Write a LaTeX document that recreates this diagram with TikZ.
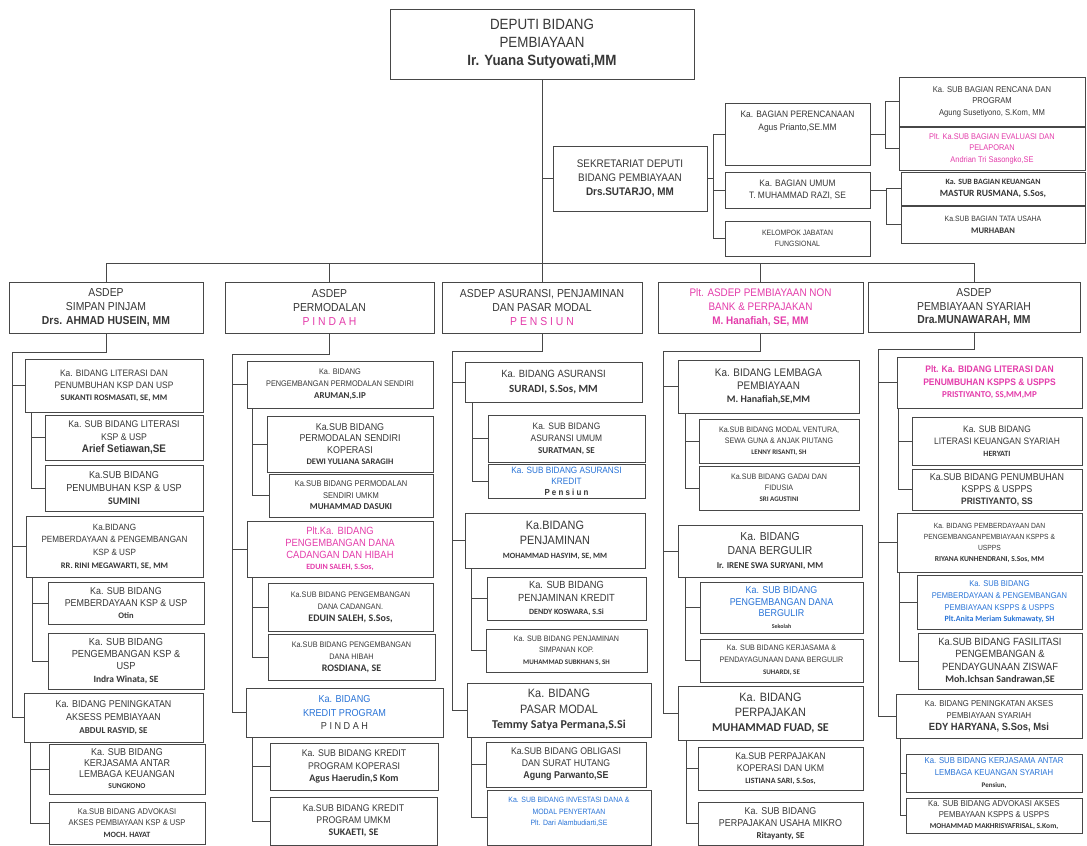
\documentclass[tikz,border=0pt]{standalone}
\usepackage{fontspec}
\setmainfont{Liberation Sans}[FakeStretch=0.9]
\newfontfamily\calib{Carlito}
\usetikzlibrary{calc}
\definecolor{pk}{RGB}{228,60,170}
\definecolor{bl}{RGB}{40,115,215}
\definecolor{tx}{RGB}{55,55,55}
\newcommand\fz[2]{\fontsize{\dimexpr #1pt*11/10\relax}{\dimexpr #2pt*11/10\relax}\selectfont}
\newcommand\nm[2]{{\calib\bfseries\fontsize{#1}{#1}\selectfont #2}}
\newcommand\ab[2]{{\bfseries\fontsize{\dimexpr #1pt*11/10\relax}{#1}\selectfont #2}}
\newcommand\bx[7][]{\node[box,#1,minimum width={(#5-#3)*1pt},minimum height={(#6-#4)*1pt}] (#2) at ({(#3+#5)/2},{(#4+#6)/2}) {#7};}
\begin{document}
\begin{tikzpicture}[x=1pt,y=-1pt,
  box/.style={draw=black!72,line width=1pt,fill=white,align=center,inner sep=1pt,text=tx},
  ln/.style={draw=black!72,line width=1pt}]
\fill[white] (0,0) rectangle (1087,846);
\useasboundingbox (0,0) rectangle (1087,846);
% top
\bx[font=\fz{13.5}{16.5}]{D}{390}{9}{694}{79}{DEPUTI BIDANG\\PEMBIAYAAN\\\ab{13.5}{Ir. Yuana Sutyowati,MM}}
\bx[font=\fz{10}{12.5}]{S}{553}{146}{707}{211}{SEKRETARIAT DEPUTI\\BIDANG PEMBIAYAAN\\\ab{10}{Drs.SUTARJO, MM}}
\bx[font=\fz{8.5}{12}]{P1}{725}{103}{870}{165}{Ka. BAGIAN PERENCANAAN\\Agus Prianto,SE.MM\\~\\~}
\bx[font=\fz{8.5}{11.5}]{P2}{725}{172}{870}{208}{Ka. BAGIAN UMUM\\T. MUHAMMAD RAZI, SE}
\bx[font=\fz{7}{10.5}]{P3}{725}{221}{870}{256}{KELOMPOK JABATAN\\FUNGSIONAL}
\bx[font=\fz{7.7}{10.5}]{R1}{899}{77}{1085}{126}{Ka. SUB BAGIAN RENCANA DAN\\PROGRAM\\Agung Susetiyono, S.Kom, MM}
\bx[text=pk,font=\fz{7.5}{10.5}]{R2}{899}{127}{1085}{170}{Plt. Ka.SUB BAGIAN EVALUASI DAN\\PELAPORAN\\Andrian Tri Sasongko,SE}
\bx[font=\fz{8}{11}]{R3}{901}{172}{1085}{205}{\nm{8}{Ka. SUB BAGIAN KEUANGAN}\\\nm{9.5}{MASTUR RUSMANA, S.Sos,}}
\bx[font=\fz{7}{11}]{R4}{901}{206}{1085}{243}{Ka.SUB BAGIAN TATA USAHA\\\nm{8.5}{MURHABAN}}
% asdep
\bx[font=\fz{10.5}{12.5}]{A1}{9}{282}{203}{333}{ASDEP\\SIMPAN PINJAM\\\ab{10.5}{Drs. AHMAD HUSEIN, MM}}
\bx[font=\fz{10.5}{12.5}]{A2}{225}{282}{434}{333}{ASDEP\\PERMODALAN\\\textcolor{pk}{P I N D A H}}
\bx[font=\fz{10.5}{12.5}]{A3}{442}{282}{642}{333}{ASDEP ASURANSI, PENJAMINAN\\DAN PASAR MODAL\\\textcolor{pk}{P E N S I U N}}
\bx[text=pk,font=\fz{10}{12.5}]{A4}{658}{282}{863}{333}{Plt. ASDEP PEMBIAYAAN NON\\BANK \& PERPAJAKAN\\\ab{10}{M. Hanafiah, SE, MM}}
\bx[font=\fz{10.5}{12.5}]{A5}{868}{282}{1080}{332}{ASDEP\\PEMBIAYAAN SYARIAH\\\ab{10.5}{Dra.MUNAWARAH, MM}}
% col1
\bx[font=\fz{8.5}{11}]{B11}{25}{359}{203}{412}{Ka. BIDANG LITERASI DAN\\PENUMBUHAN KSP DAN USP\\\nm{8.5}{SUKANTI ROSMASATI, SE, MM}}
\bx[font=\fz{8.8}{11}]{C111}{45}{415}{203}{460}{Ka. SUB BIDANG LITERASI\\KSP \& USP\\\ab{10}{Arief Setiawan,SE}}
\bx[font=\fz{9.2}{11.5}]{C112}{45}{465}{203}{511}{Ka.SUB BIDANG\\PENUMBUHAN KSP \& USP\\\nm{10}{SUMINI}}
\bx[font=\fz{8.2}{11.5}]{B12}{26}{516}{203}{577}{Ka.BIDANG\\PEMBERDAYAAN \& PENGEMBANGAN\\KSP \& USP\\\nm{8.5}{RR. RINI MEGAWARTI, SE, MM}}
\bx[font=\fz{9}{11}]{C121}{48}{582}{204}{624}{Ka. SUB BIDANG\\PEMBERDAYAAN KSP \& USP\\\nm{8.5}{Otin}}
\bx[font=\fz{9.3}{11}]{C122}{48}{633}{204}{689}{Ka. SUB BIDANG\\PENGEMBANGAN KSP \&\\USP\\\nm{9.5}{Indra Winata, SE}}
\bx[font=\fz{9}{11.5}]{B13}{24}{693}{203}{742}{Ka. BIDANG PENINGKATAN\\AKSESS PEMBIAYAAN\\\nm{9}{ABDUL RASYID, SE}}
\bx[font=\fz{9}{10}]{C131}{49}{744}{205}{794}{Ka. SUB BIDANG\\KERJASAMA ANTAR\\LEMBAGA KEUANGAN\\\nm{7.5}{SUNGKONO}}
\bx[font=\fz{7.6}{10.5}]{C132}{49}{802}{205}{844}{Ka.SUB BIDANG ADVOKASI\\AKSES PEMBIAYAAN KSP \& USP\\\nm{8}{MOCH. HAYAT}}
% col2
\bx[font=\fz{7.4}{11}]{B21}{247}{361}{433}{408}{Ka. BIDANG\\PENGEMBANGAN PERMODALAN SENDIRI\\\nm{9}{ARUMAN,S.IP}}
\bx[font=\fz{9}{10.5}]{C211}{267}{416}{433}{472}{Ka.SUB BIDANG\\PERMODALAN SENDIRI\\KOPERASI\\\nm{8.5}{DEWI YULIANA SARAGIH}}
\bx[font=\fz{7.6}{10.5}]{C212}{269}{474}{433}{517}{Ka.SUB BIDANG PERMODALAN\\SENDIRI UMKM\\\nm{9}{MUHAMMAD DASUKI}}
\bx[text=pk,font=\fz{9.5}{10.5}]{B22}{247}{521}{433}{577}{Plt.Ka. BIDANG\\PENGEMBANGAN DANA\\CADANGAN DAN HIBAH\\\nm{8}{EDUIN SALEH, S.Sos,}}
\bx[font=\fz{7.3}{11}]{C221}{268}{583}{433}{631}{Ka.SUB BIDANG PENGEMBANGAN\\DANA CADANGAN.\\\nm{10}{EDUIN SALEH, S.Sos,}}
\bx[font=\fz{7.3}{11}]{C222}{268}{634}{435}{680}{Ka.SUB BIDANG PENGEMBANGAN\\DANA HIBAH\\\nm{10}{ROSDIANA, SE}}
\bx[text=bl,font=\fz{9.2}{12}]{B23}{246}{688}{443}{737}{Ka. BIDANG\\KREDIT PROGRAM\\\textcolor{tx}{P I N D A H}}
\bx[font=\fz{8.8}{11}]{C231}{270}{743}{438}{790}{Ka. SUB BIDANG KREDIT\\PROGRAM KOPERASI\\\nm{10}{Agus Haerudin,S Kom}}
\bx[font=\fz{8.8}{11}]{C232}{270}{797}{437}{845}{Ka.SUB BIDANG KREDIT\\PROGRAM UMKM\\\nm{10}{SUKAETI, SE}}
% col3
\bx[font=\fz{9.5}{13}]{B31}{465}{362}{642}{402}{Ka. BIDANG ASURANSI\\\nm{11}{SURADI, S.Sos, MM}}
\bx[font=\fz{8.5}{11}]{C311}{488}{415}{645}{462}{Ka. SUB BIDANG\\ASURANSI UMUM\\\nm{9}{SURATMAN, SE}}
\bx[text=bl,font=\fz{8.3}{10}]{C312}{488}{464}{645}{498}{Ka. SUB BIDANG ASURANSI\\KREDIT\\\textcolor{tx}{\ab{8}{P e n s i u n}}}
\bx[font=\fz{11}{13}]{B32}{465}{513}{645}{568}{Ka.BIDANG\\PENJAMINAN\\\nm{8}{MOHAMMAD HASYIM, SE, MM}}
\bx[font=\fz{9.4}{11.5}]{C321}{487}{577}{646}{620}{Ka. SUB BIDANG\\PENJAMINAN KREDIT\\\nm{8}{DENDY KOSWARA, S.Si}}
\bx[font=\fz{7.2}{10.5}]{C322}{486}{629}{647}{672}{Ka. SUB BIDANG PENJAMINAN\\SIMPANAN KOP.\\\nm{7}{MUHAMMAD SUBKHAN S, SH}}
\bx[font=\fz{11}{14}]{B33}{467}{683}{651}{737}{Ka. BIDANG\\PASAR MODAL\\\nm{12}{Temmy Satya Permana,S.Si}}
\bx[font=\fz{8.8}{11}]{C331}{486}{742}{646}{787}{Ka.SUB BIDANG OBLIGASI\\DAN SURAT HUTANG\\\ab{9}{Agung Parwanto,SE}}
\bx[text=bl,font=\fz{7}{10.5}]{C332}{487}{790}{651}{845}{Ka. SUB BIDANG INVESTASI DANA \&\\MODAL PENYERTAAN\\Plt. Dari Alambudiarti,SE\\~}
% col4
\bx[font=\fz{10}{12}]{B41}{678}{360}{859}{413}{Ka. BIDANG LEMBAGA\\PEMBIAYAAN\\\nm{10}{M. Hanafiah,SE,MM}}
\bx[font=\fz{7.2}{10}]{C411}{699}{419}{859}{463}{Ka.SUB BIDANG MODAL VENTURA,\\SEWA GUNA \& ANJAK PIUTANG\\\nm{7}{LENNY RISANTI, SH}}
\bx[font=\fz{7.2}{10}]{C412}{699}{466}{859}{510}{Ka.SUB BIDANG GADAI DAN\\FIDUSIA\\\nm{7}{SRI AGUSTINI}}
\bx[font=\fz{10.5}{13}]{B42}{678}{525}{862}{577}{Ka. BIDANG\\DANA BERGULIR\\\nm{9}{Ir. IRENE SWA SURYANI, MM}}
\bx[text=bl,font=\fz{9}{10.5}]{C421}{700}{582}{863}{633}{Ka. SUB BIDANG\\PENGEMBANGAN DANA\\BERGULIR\\\textcolor{tx}{\nm{6}{Sekolah}}}
\bx[font=\fz{7.2}{11}]{C422}{700}{639}{863}{682}{Ka. SUB BIDANG KERJASAMA \&\\PENDAYAGUNAAN DANA BERGULIR\\\nm{7}{SUHARDI, SE}}
\bx[font=\fz{11}{14}]{B43}{678}{686}{863}{740}{Ka. BIDANG\\PERPAJAKAN\\\nm{12}{MUHAMMAD FUAD, SE}}
\bx[font=\fz{8.8}{11}]{C431}{698}{747}{863}{790}{Ka.SUB PERPAJAKAN\\KOPERASI DAN UKM\\\nm{8}{LISTIANA SARI, S.Sos,}}
\bx[font=\fz{9}{11}]{C432}{698}{802}{863}{845}{Ka. SUB BIDANG\\PERPAJAKAN USAHA MIKRO\\\nm{9}{Ritayanty, SE}}
% col5
\bx[text=pk,font=\fz{8.6}{11.5}\bfseries]{B51}{897}{357}{1082}{408}{Plt. Ka. BIDANG LITERASI DAN\\PENUMBUHAN KSPPS \& USPPS\\\nm{9}{PRISTIYANTO, SS,MM,MP}}
\bx[font=\fz{8.5}{11}]{C511}{912}{417}{1082}{465}{Ka. SUB BIDANG\\LITERASI KEUANGAN SYARIAH\\\nm{8}{HERYATI}}
\bx[font=\fz{9}{11}]{C512}{912}{469}{1082}{510}{Ka.SUB BIDANG PENUMBUHAN\\KSPPS \& USPPS\\\ab{8.5}{PRISTIYANTO, SS}}
\bx[font=\fz{6.8}{10}]{B52}{897}{513}{1082}{572}{Ka. BIDANG PEMBERDAYAAN DAN\\PENGEMBANGANPEMBIAYAAN KSPPS \&\\USPPS\\\nm{7.5}{RIYANA KUNHENDRANI, S.Sos, MM}}
\bx[text=bl,font=\fz{7.6}{10.5}]{C521}{917}{575}{1082}{629}{Ka. SUB BIDANG\\PEMBERDAYAAN \& PENGEMBANGAN\\PEMBIAYAAN KSPPS \& USPPS\\\nm{8}{Plt.Anita Meriam Sukmawaty, SH}}
\bx[font=\fz{9.5}{11.5}]{C522}{918}{633}{1082}{689}{Ka.SUB BIDANG FASILITASI\\PENGEMBANGAN \&\\PENDAYGUNAAN ZISWAF\\\nm{10}{Moh.Ichsan Sandrawan,SE}}
\bx[font=\fz{7.8}{11}]{B53}{896}{694}{1082}{738}{Ka. BIDANG PENINGKATAN AKSES\\PEMBIAYAAN SYARIAH\\\ab{9.5}{EDY HARYANA, S.Sos, Msi}}
\bx[text=bl,font=\fz{7.8}{10.5}]{C531}{906}{754}{1082}{792}{Ka. SUB BIDANG KERJASAMA ANTAR\\LEMBAGA KEUANGAN SYARIAH\\\textcolor{tx}{\nm{7}{Pensiun,}}}
\bx[font=\fz{7.8}{10}]{C532}{906}{798}{1082}{833}{Ka. SUB BIDANG ADVOKASI AKSES\\PEMBAYAAN KSPPS \& USPPS\\\nm{7.5}{MOHAMMAD MAKHRISYAFRISAL, S.Kom,}}
% connectors top
\draw[ln] (D.south) -- (A3.north);
\draw[ln] (S.west) -| (D.south);
\coordinate (bar) at (0,263);
\draw[ln] (A1.north) -- (A1.north |- bar) -- (A5.north |- bar) -- (A5.north);
\draw[ln] (A2.north) -- (A2.north |- bar);
\draw[ln] (A4.north) -- (A4.north |- bar);
\draw[ln] (S.east) -- ++(6,0) coordinate (sv);
\foreach \p in {P1,P2,P3} \draw[ln] (sv) |- (\p.west);
\draw[ln] (P1.east) -- ++(15,0) coordinate (rv1);
\foreach \r in {R1,R2} \draw[ln] (rv1) |- (\r.west);
\draw[ln] (P2.east) -- ++(16,0) coordinate (rv2);
\foreach \r in {R3,R4} \draw[ln] (rv2) |- (\r.west);
% column spines
\coordinate (M1) at (12,352);
\coordinate (M2) at (232,354);
\coordinate (M3) at (452,351);
\coordinate (M4) at (663,351);
\coordinate (M5) at (878,349);
\foreach \a/\m/\x/\y/\z in {A1/M1/B11/B12/B13, A2/M2/B21/B22/B23, A3/M3/B31/B32/B33, A4/M4/B41/B42/B43, A5/M5/B51/B52/B53}{
  \draw[ln] (\a.south) |- (\m);
  \draw[ln] (\m) |- (\x.west);
  \draw[ln] (\m) |- (\y.west);
  \draw[ln] (\m) |- (\z.west);
}
\foreach \p/\a/\b/\o in {B11/C111/C112/7, B12/C121/C122/7, B13/C131/C132/7,
  B21/C211/C212/6, B22/C221/C222/6, B23/C231/C232/7,
  B31/C311/C312/8, B32/C321/C322/7, B33/C331/C332/5,
  B41/C411/C412/8, B42/C421/C422/8, B43/C431/C432/9,
  B51/C511/C512/2, B52/C521/C522/3, B53/C531/C532/5}{
  \draw[ln] ($(\p.south west)+(\o,0)$) |- (\a.west);
  \draw[ln] ($(\p.south west)+(\o,0)$) |- (\b.west);
}
\end{tikzpicture}
\end{document}
